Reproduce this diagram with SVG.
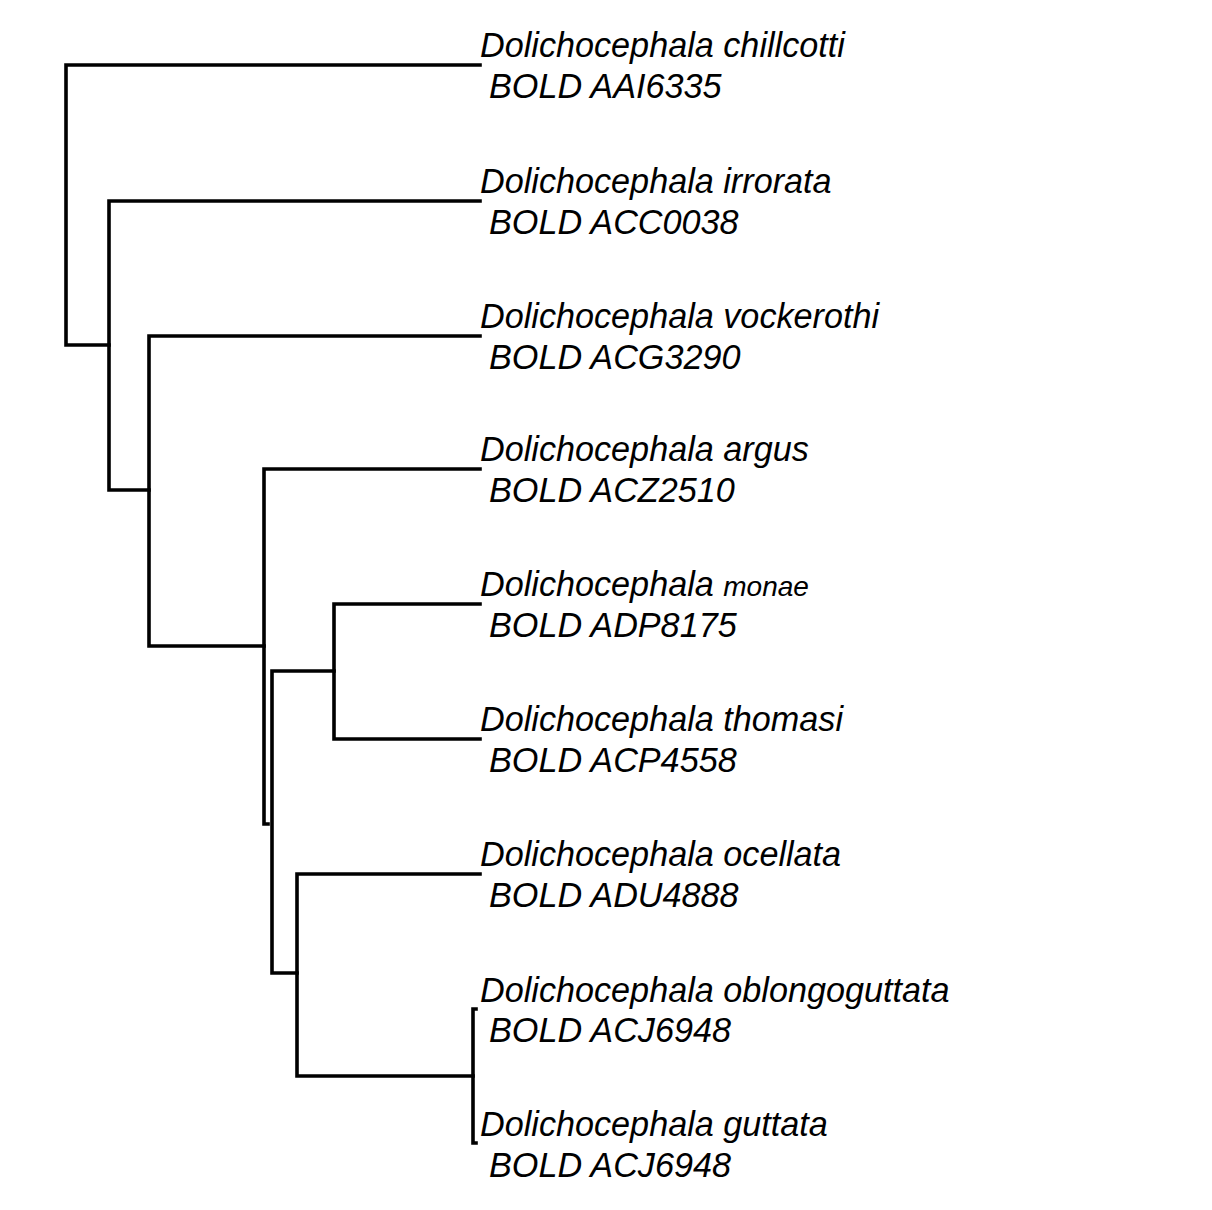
<svg xmlns="http://www.w3.org/2000/svg" width="1212" height="1210" viewBox="0 0 1212 1210">
<style>
.br{fill:none;stroke:#000;stroke-width:3.6;stroke-linecap:square;stroke-linejoin:miter}
.t{font-family:"Liberation Sans",Arial,sans-serif;font-style:italic;font-size:34.2px;fill:#000}
.sm{font-size:28px}
</style>
<rect width="1212" height="1210" fill="#fff"/>
<g id="connectors">
<path class="br" d="M480,65 H66 V345 H109"/>
<path class="br" d="M480,201 H109 V490 H149"/>
<path class="br" d="M480,336 H149 V646 H264"/>
<path class="br" d="M480,469 H264 V824 H268"/>
<path class="br" d="M334,671 H272 V973 H297"/>
<path class="br" d="M480,604 H334 V739 H480"/>
<path class="br" d="M480,874 H297 V1076 H473"/>
<path class="br" d="M476,1009 H473 V1143 H476"/>
</g>
<g id="n1"><text class="t" x="480" y="57">Dolichocephala chillcotti</text><text class="t" x="489" y="98">BOLD AAI6335</text></g>
<g id="n2"><text class="t" x="480" y="193">Dolichocephala irrorata</text><text class="t" x="489" y="234">BOLD ACC0038</text></g>
<g id="n3"><text class="t" x="480" y="328">Dolichocephala vockerothi</text><text class="t" x="489" y="369">BOLD ACG3290</text></g>
<g id="n4"><text class="t" x="480" y="461">Dolichocephala argus</text><text class="t" x="489" y="502">BOLD ACZ2510</text></g>
<g id="n5"><text class="t" x="480" y="596">Dolichocephala <tspan class="sm">monae</tspan></text><text class="t" x="489" y="637">BOLD ADP8175</text></g>
<g id="n6"><text class="t" x="480" y="731">Dolichocephala thomasi</text><text class="t" x="489" y="772">BOLD ACP4558</text></g>
<g id="n7"><text class="t" x="480" y="866">Dolichocephala ocellata</text><text class="t" x="489" y="907">BOLD ADU4888</text></g>
<g id="n8"><text class="t" x="480" y="1002">Dolichocephala oblongoguttata</text><text class="t" x="489" y="1042">BOLD ACJ6948</text></g>
<g id="n9"><text class="t" x="480" y="1136">Dolichocephala guttata</text><text class="t" x="489" y="1177">BOLD ACJ6948</text></g>
</svg>
